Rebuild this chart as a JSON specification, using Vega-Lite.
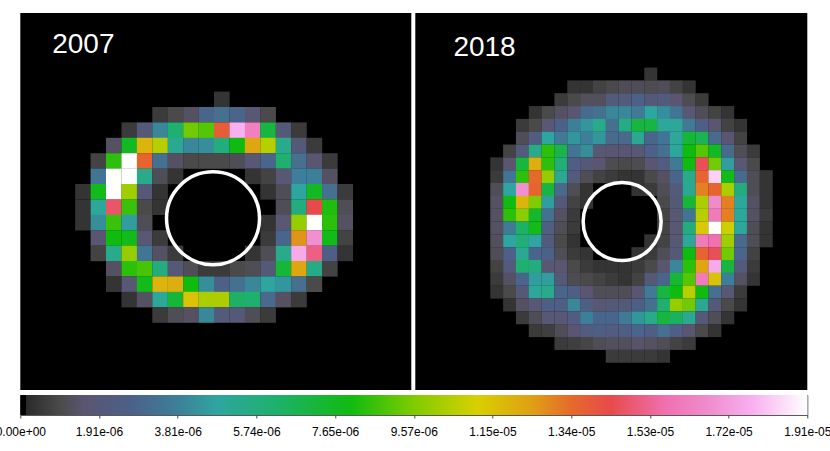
{"$schema":"https://vega.github.io/schema/vega-lite/v6.json","padding":{"left":-5.7,"top":13,"right":0,"bottom":0},"background":"white","config":{"font":"Liberation Sans","concat":{"spacing":4},"view":{"stroke":null}},
"datasets":{
"map2007":[
{"x":9,"y":0,"pct":2},
{"x":5,"y":1,"pct":3},{"x":6,"y":1,"pct":5},{"x":7,"y":1,"pct":7},{"x":8,"y":1,"pct":15},{"x":9,"y":1,"pct":17},{"x":10,"y":1,"pct":15},{"x":11,"y":1,"pct":9},{"x":12,"y":1,"pct":5},
{"x":3,"y":2,"pct":3},{"x":4,"y":2,"pct":10},{"x":5,"y":2,"pct":21},{"x":6,"y":2,"pct":32},{"x":7,"y":2,"pct":49},{"x":8,"y":2,"pct":47},{"x":9,"y":2,"pct":72},{"x":10,"y":2,"pct":93},{"x":11,"y":2,"pct":85},{"x":12,"y":2,"pct":37},{"x":13,"y":2,"pct":10},{"x":14,"y":2,"pct":3},
{"x":2,"y":3,"pct":7},{"x":3,"y":3,"pct":40},{"x":4,"y":3,"pct":62},{"x":5,"y":3,"pct":55},{"x":6,"y":3,"pct":27},{"x":7,"y":3,"pct":21},{"x":8,"y":3,"pct":22},{"x":9,"y":3,"pct":30},{"x":10,"y":3,"pct":42},{"x":11,"y":3,"pct":64},{"x":12,"y":3,"pct":55},{"x":13,"y":3,"pct":28},{"x":14,"y":3,"pct":10},{"x":15,"y":3,"pct":3},
{"x":1,"y":4,"pct":4},{"x":2,"y":4,"pct":44},{"x":3,"y":4,"pct":100},{"x":4,"y":4,"pct":71},{"x":5,"y":4,"pct":17},{"x":6,"y":4,"pct":7},{"x":7,"y":4,"pct":5},{"x":8,"y":4,"pct":5},{"x":9,"y":4,"pct":5},{"x":10,"y":4,"pct":6},{"x":11,"y":4,"pct":9},{"x":12,"y":4,"pct":15},{"x":13,"y":4,"pct":32},{"x":14,"y":4,"pct":17},{"x":15,"y":4,"pct":8},{"x":16,"y":4,"pct":3},
{"x":1,"y":5,"pct":18},{"x":2,"y":5,"pct":100},{"x":3,"y":5,"pct":100},{"x":4,"y":5,"pct":28},{"x":5,"y":5,"pct":6},{"x":6,"y":5,"pct":2},{"x":11,"y":5,"pct":2},{"x":12,"y":5,"pct":4},{"x":13,"y":5,"pct":9},{"x":14,"y":5,"pct":20},{"x":15,"y":5,"pct":20},{"x":16,"y":5,"pct":7},
{"x":0,"y":6,"pct":2},{"x":1,"y":6,"pct":41},{"x":2,"y":6,"pct":100},{"x":3,"y":6,"pct":53},{"x":4,"y":6,"pct":10},{"x":5,"y":6,"pct":2},{"x":12,"y":6,"pct":2},{"x":13,"y":6,"pct":6},{"x":14,"y":6,"pct":25},{"x":15,"y":6,"pct":40},{"x":16,"y":6,"pct":17},{"x":17,"y":6,"pct":3},
{"x":0,"y":7,"pct":2},{"x":1,"y":7,"pct":26},{"x":2,"y":7,"pct":77},{"x":3,"y":7,"pct":45},{"x":4,"y":7,"pct":5},{"x":5,"y":7,"pct":2},{"x":13,"y":7,"pct":6},{"x":14,"y":7,"pct":30},{"x":15,"y":7,"pct":75},{"x":16,"y":7,"pct":43},{"x":17,"y":7,"pct":6},
{"x":0,"y":8,"pct":2},{"x":1,"y":8,"pct":22},{"x":2,"y":8,"pct":45},{"x":3,"y":8,"pct":24},{"x":4,"y":8,"pct":6},{"x":12,"y":8,"pct":2},{"x":13,"y":8,"pct":9},{"x":14,"y":8,"pct":52},{"x":15,"y":8,"pct":100},{"x":16,"y":8,"pct":44},{"x":17,"y":8,"pct":7},
{"x":1,"y":9,"pct":8},{"x":2,"y":9,"pct":42},{"x":3,"y":9,"pct":41},{"x":4,"y":9,"pct":9},{"x":5,"y":9,"pct":3},{"x":12,"y":9,"pct":3},{"x":13,"y":9,"pct":15},{"x":14,"y":9,"pct":66},{"x":15,"y":9,"pct":88},{"x":16,"y":9,"pct":41},{"x":17,"y":9,"pct":4},
{"x":1,"y":10,"pct":4},{"x":2,"y":10,"pct":28},{"x":3,"y":10,"pct":52},{"x":4,"y":10,"pct":18},{"x":5,"y":10,"pct":7},{"x":6,"y":10,"pct":3},{"x":11,"y":10,"pct":2},{"x":12,"y":10,"pct":6},{"x":13,"y":10,"pct":28},{"x":14,"y":10,"pct":92},{"x":15,"y":10,"pct":79},{"x":16,"y":10,"pct":13},{"x":17,"y":10,"pct":2},
{"x":2,"y":11,"pct":7},{"x":3,"y":11,"pct":44},{"x":4,"y":11,"pct":46},{"x":5,"y":11,"pct":30},{"x":6,"y":11,"pct":10},{"x":7,"y":11,"pct":6},{"x":8,"y":11,"pct":3},{"x":9,"y":11,"pct":3},{"x":10,"y":11,"pct":5},{"x":11,"y":11,"pct":6},{"x":12,"y":11,"pct":10},{"x":13,"y":11,"pct":38},{"x":14,"y":11,"pct":64},{"x":15,"y":11,"pct":29},{"x":16,"y":11,"pct":4},
{"x":2,"y":12,"pct":2},{"x":3,"y":12,"pct":9},{"x":4,"y":12,"pct":41},{"x":5,"y":12,"pct":62},{"x":6,"y":12,"pct":63},{"x":7,"y":12,"pct":42},{"x":8,"y":12,"pct":22},{"x":9,"y":12,"pct":14},{"x":10,"y":12,"pct":17},{"x":11,"y":12,"pct":21},{"x":12,"y":12,"pct":25},{"x":13,"y":12,"pct":23},{"x":14,"y":12,"pct":17},{"x":15,"y":12,"pct":5},
{"x":3,"y":13,"pct":2},{"x":4,"y":13,"pct":7},{"x":5,"y":13,"pct":26},{"x":6,"y":13,"pct":38},{"x":7,"y":13,"pct":60},{"x":8,"y":13,"pct":54},{"x":9,"y":13,"pct":54},{"x":10,"y":13,"pct":33},{"x":11,"y":13,"pct":32},{"x":12,"y":13,"pct":16},{"x":13,"y":13,"pct":7},{"x":14,"y":13,"pct":3},
{"x":5,"y":14,"pct":3},{"x":6,"y":14,"pct":6},{"x":7,"y":14,"pct":7},{"x":8,"y":14,"pct":21},{"x":9,"y":14,"pct":11},{"x":10,"y":14,"pct":10},{"x":11,"y":14,"pct":6},{"x":12,"y":14,"pct":3}
],
"map2018":[
{"x":12,"y":0,"pct":2},
{"x":6,"y":1,"pct":2},{"x":7,"y":1,"pct":2},{"x":8,"y":1,"pct":4},{"x":9,"y":1,"pct":5},{"x":10,"y":1,"pct":6},{"x":11,"y":1,"pct":6},{"x":12,"y":1,"pct":5.5},{"x":13,"y":1,"pct":6},{"x":14,"y":1,"pct":4},{"x":15,"y":1,"pct":2},
{"x":5,"y":2,"pct":3},{"x":6,"y":2,"pct":5},{"x":7,"y":2,"pct":6.5},{"x":8,"y":2,"pct":6.5},{"x":9,"y":2,"pct":11},{"x":10,"y":2,"pct":11},{"x":11,"y":2,"pct":14},{"x":12,"y":2,"pct":10},{"x":13,"y":2,"pct":11},{"x":14,"y":2,"pct":8},{"x":15,"y":2,"pct":5.5},{"x":16,"y":2,"pct":3},
{"x":3,"y":3,"pct":2},{"x":4,"y":3,"pct":5},{"x":5,"y":3,"pct":7},{"x":6,"y":3,"pct":8},{"x":7,"y":3,"pct":16},{"x":8,"y":3,"pct":17},{"x":9,"y":3,"pct":21},{"x":10,"y":3,"pct":21},{"x":11,"y":3,"pct":19},{"x":12,"y":3,"pct":25},{"x":13,"y":3,"pct":22},{"x":14,"y":3,"pct":18},{"x":15,"y":3,"pct":9},{"x":16,"y":3,"pct":6},{"x":17,"y":3,"pct":4},{"x":18,"y":3,"pct":2},
{"x":2,"y":4,"pct":3},{"x":3,"y":4,"pct":5},{"x":4,"y":4,"pct":9},{"x":5,"y":4,"pct":14},{"x":6,"y":4,"pct":20},{"x":7,"y":4,"pct":23},{"x":8,"y":4,"pct":28},{"x":9,"y":4,"pct":17},{"x":10,"y":4,"pct":29},{"x":11,"y":4,"pct":37},{"x":12,"y":4,"pct":37},{"x":13,"y":4,"pct":26},{"x":14,"y":4,"pct":26},{"x":15,"y":4,"pct":19},{"x":16,"y":4,"pct":13},{"x":17,"y":4,"pct":8},{"x":18,"y":4,"pct":4},{"x":19,"y":4,"pct":2},
{"x":2,"y":5,"pct":6},{"x":3,"y":5,"pct":12},{"x":4,"y":5,"pct":25},{"x":5,"y":5,"pct":19},{"x":6,"y":5,"pct":23},{"x":7,"y":5,"pct":20},{"x":8,"y":5,"pct":23},{"x":9,"y":5,"pct":16},{"x":10,"y":5,"pct":16},{"x":11,"y":5,"pct":27},{"x":12,"y":5,"pct":15},{"x":13,"y":5,"pct":18},{"x":14,"y":5,"pct":26},{"x":15,"y":5,"pct":38},{"x":16,"y":5,"pct":35},{"x":17,"y":5,"pct":16},{"x":18,"y":5,"pct":8},{"x":19,"y":5,"pct":4},
{"x":1,"y":6,"pct":4},{"x":2,"y":6,"pct":11},{"x":3,"y":6,"pct":28},{"x":4,"y":6,"pct":44},{"x":5,"y":6,"pct":36},{"x":6,"y":6,"pct":18},{"x":7,"y":6,"pct":22},{"x":8,"y":6,"pct":9},{"x":9,"y":6,"pct":8.5},{"x":10,"y":6,"pct":8.5},{"x":11,"y":6,"pct":9},{"x":12,"y":6,"pct":14},{"x":13,"y":6,"pct":17},{"x":14,"y":6,"pct":26},{"x":15,"y":6,"pct":42},{"x":16,"y":6,"pct":47},{"x":17,"y":6,"pct":40},{"x":18,"y":6,"pct":16},{"x":19,"y":6,"pct":6},{"x":20,"y":6,"pct":3},
{"x":0,"y":7,"pct":2},{"x":1,"y":7,"pct":8},{"x":2,"y":7,"pct":37},{"x":3,"y":7,"pct":63},{"x":4,"y":7,"pct":44},{"x":5,"y":7,"pct":31},{"x":6,"y":7,"pct":13},{"x":7,"y":7,"pct":10},{"x":8,"y":7,"pct":8},{"x":9,"y":7,"pct":5.5},{"x":10,"y":7,"pct":5},{"x":11,"y":7,"pct":5.5},{"x":12,"y":7,"pct":8},{"x":13,"y":7,"pct":12},{"x":14,"y":7,"pct":19},{"x":15,"y":7,"pct":42},{"x":16,"y":7,"pct":76},{"x":17,"y":7,"pct":49},{"x":18,"y":7,"pct":24},{"x":19,"y":7,"pct":9},{"x":20,"y":7,"pct":5},
{"x":0,"y":8,"pct":3},{"x":1,"y":8,"pct":18},{"x":2,"y":8,"pct":44},{"x":3,"y":8,"pct":70},{"x":4,"y":8,"pct":52},{"x":5,"y":8,"pct":27},{"x":6,"y":8,"pct":11},{"x":7,"y":8,"pct":6},{"x":8,"y":8,"pct":4},{"x":9,"y":8,"pct":3},{"x":10,"y":8,"pct":2},{"x":11,"y":8,"pct":2},{"x":12,"y":8,"pct":5},{"x":13,"y":8,"pct":7},{"x":14,"y":8,"pct":15},{"x":15,"y":8,"pct":28},{"x":16,"y":8,"pct":71},{"x":17,"y":8,"pct":96},{"x":18,"y":8,"pct":41},{"x":19,"y":8,"pct":16},{"x":20,"y":8,"pct":6},{"x":21,"y":8,"pct":2},
{"x":0,"y":9,"pct":6},{"x":1,"y":9,"pct":25},{"x":2,"y":9,"pct":88},{"x":3,"y":9,"pct":71},{"x":4,"y":9,"pct":37},{"x":5,"y":9,"pct":16},{"x":6,"y":9,"pct":6},{"x":7,"y":9,"pct":2},{"x":11,"y":9,"pct":2},{"x":12,"y":9,"pct":3},{"x":13,"y":9,"pct":6},{"x":14,"y":9,"pct":11},{"x":15,"y":9,"pct":27},{"x":16,"y":9,"pct":68},{"x":17,"y":9,"pct":71},{"x":18,"y":9,"pct":54},{"x":19,"y":9,"pct":30},{"x":20,"y":9,"pct":6},{"x":21,"y":9,"pct":2},
{"x":0,"y":10,"pct":7},{"x":1,"y":10,"pct":42},{"x":2,"y":10,"pct":62},{"x":3,"y":10,"pct":50},{"x":4,"y":10,"pct":24},{"x":5,"y":10,"pct":10},{"x":6,"y":10,"pct":4},{"x":7,"y":10,"pct":2},{"x":13,"y":10,"pct":5},{"x":14,"y":10,"pct":10},{"x":15,"y":10,"pct":38},{"x":16,"y":10,"pct":54},{"x":17,"y":10,"pct":87},{"x":18,"y":10,"pct":68},{"x":19,"y":10,"pct":26},{"x":20,"y":10,"pct":7},{"x":21,"y":10,"pct":2},
{"x":0,"y":11,"pct":7},{"x":1,"y":11,"pct":44},{"x":2,"y":11,"pct":51},{"x":3,"y":11,"pct":39},{"x":4,"y":11,"pct":17},{"x":5,"y":11,"pct":7},{"x":6,"y":11,"pct":3},{"x":13,"y":11,"pct":4},{"x":14,"y":11,"pct":9},{"x":15,"y":11,"pct":18},{"x":16,"y":11,"pct":55},{"x":17,"y":11,"pct":84},{"x":18,"y":11,"pct":68},{"x":19,"y":11,"pct":26},{"x":20,"y":11,"pct":7},{"x":21,"y":11,"pct":3},
{"x":0,"y":12,"pct":7},{"x":1,"y":12,"pct":19},{"x":2,"y":12,"pct":33},{"x":3,"y":12,"pct":41},{"x":4,"y":12,"pct":13},{"x":5,"y":12,"pct":6},{"x":6,"y":12,"pct":3},{"x":13,"y":12,"pct":4},{"x":14,"y":12,"pct":9},{"x":15,"y":12,"pct":30},{"x":16,"y":12,"pct":59},{"x":17,"y":12,"pct":100},{"x":18,"y":12,"pct":57},{"x":19,"y":12,"pct":26},{"x":20,"y":12,"pct":6},{"x":21,"y":12,"pct":2},
{"x":0,"y":13,"pct":6.5},{"x":1,"y":13,"pct":25},{"x":2,"y":13,"pct":31},{"x":3,"y":13,"pct":25},{"x":4,"y":13,"pct":11},{"x":5,"y":13,"pct":5},{"x":6,"y":13,"pct":2},{"x":12,"y":13,"pct":2},{"x":13,"y":13,"pct":4},{"x":14,"y":13,"pct":9},{"x":15,"y":13,"pct":26},{"x":16,"y":13,"pct":84},{"x":17,"y":13,"pct":82},{"x":18,"y":13,"pct":53},{"x":19,"y":13,"pct":16},{"x":20,"y":13,"pct":6},{"x":21,"y":13,"pct":2},
{"x":0,"y":14,"pct":6},{"x":1,"y":14,"pct":14},{"x":2,"y":14,"pct":27},{"x":3,"y":14,"pct":15},{"x":4,"y":14,"pct":14},{"x":5,"y":14,"pct":6},{"x":6,"y":14,"pct":3},{"x":7,"y":14,"pct":2},{"x":11,"y":14,"pct":2},{"x":12,"y":14,"pct":3},{"x":13,"y":14,"pct":6},{"x":14,"y":14,"pct":10},{"x":15,"y":14,"pct":42},{"x":16,"y":14,"pct":71},{"x":17,"y":14,"pct":76},{"x":18,"y":14,"pct":49},{"x":19,"y":14,"pct":15},{"x":20,"y":14,"pct":4},
{"x":0,"y":15,"pct":4},{"x":1,"y":15,"pct":11},{"x":2,"y":15,"pct":32},{"x":3,"y":15,"pct":30},{"x":4,"y":15,"pct":9},{"x":5,"y":15,"pct":8},{"x":6,"y":15,"pct":5},{"x":7,"y":15,"pct":3},{"x":8,"y":15,"pct":2},{"x":9,"y":15,"pct":2},{"x":10,"y":15,"pct":2},{"x":11,"y":15,"pct":3},{"x":12,"y":15,"pct":5},{"x":13,"y":15,"pct":8},{"x":14,"y":15,"pct":21},{"x":15,"y":15,"pct":44},{"x":16,"y":15,"pct":64},{"x":17,"y":15,"pct":92},{"x":18,"y":15,"pct":37},{"x":19,"y":15,"pct":11},{"x":20,"y":15,"pct":3},
{"x":0,"y":16,"pct":3},{"x":1,"y":16,"pct":7},{"x":2,"y":16,"pct":15},{"x":3,"y":16,"pct":24},{"x":4,"y":16,"pct":24},{"x":5,"y":16,"pct":10},{"x":6,"y":16,"pct":5.5},{"x":7,"y":16,"pct":5},{"x":8,"y":16,"pct":4},{"x":9,"y":16,"pct":3},{"x":10,"y":16,"pct":2},{"x":11,"y":16,"pct":4},{"x":12,"y":16,"pct":10},{"x":13,"y":16,"pct":15},{"x":14,"y":16,"pct":38},{"x":15,"y":16,"pct":47},{"x":16,"y":16,"pct":84},{"x":17,"y":16,"pct":60},{"x":18,"y":16,"pct":20},{"x":19,"y":16,"pct":7},{"x":20,"y":16,"pct":2},
{"x":0,"y":17,"pct":2},{"x":1,"y":17,"pct":5},{"x":2,"y":17,"pct":10},{"x":3,"y":17,"pct":26},{"x":4,"y":17,"pct":28},{"x":5,"y":17,"pct":15},{"x":6,"y":17,"pct":13},{"x":7,"y":17,"pct":8},{"x":8,"y":17,"pct":6},{"x":9,"y":17,"pct":6},{"x":10,"y":17,"pct":6},{"x":11,"y":17,"pct":8},{"x":12,"y":17,"pct":19},{"x":13,"y":17,"pct":37},{"x":14,"y":17,"pct":42},{"x":15,"y":17,"pct":55},{"x":16,"y":17,"pct":42},{"x":17,"y":17,"pct":17},{"x":18,"y":17,"pct":9},{"x":19,"y":17,"pct":3},
{"x":1,"y":18,"pct":2},{"x":2,"y":18,"pct":7},{"x":3,"y":18,"pct":9},{"x":4,"y":18,"pct":13},{"x":5,"y":18,"pct":13},{"x":6,"y":18,"pct":21},{"x":7,"y":18,"pct":13},{"x":8,"y":18,"pct":9},{"x":9,"y":18,"pct":10},{"x":10,"y":18,"pct":10},{"x":11,"y":18,"pct":13},{"x":12,"y":18,"pct":17},{"x":13,"y":18,"pct":32},{"x":14,"y":18,"pct":52},{"x":15,"y":18,"pct":49},{"x":16,"y":18,"pct":27},{"x":17,"y":18,"pct":10},{"x":18,"y":18,"pct":5},{"x":19,"y":18,"pct":2},
{"x":2,"y":19,"pct":3},{"x":3,"y":19,"pct":6},{"x":4,"y":19,"pct":9},{"x":5,"y":19,"pct":9},{"x":6,"y":19,"pct":12},{"x":7,"y":19,"pct":20},{"x":8,"y":19,"pct":15},{"x":9,"y":19,"pct":15},{"x":10,"y":19,"pct":19},{"x":11,"y":19,"pct":23},{"x":12,"y":19,"pct":28},{"x":13,"y":19,"pct":37},{"x":14,"y":19,"pct":34},{"x":15,"y":19,"pct":27},{"x":16,"y":19,"pct":10},{"x":17,"y":19,"pct":6},{"x":18,"y":19,"pct":2},
{"x":3,"y":20,"pct":3},{"x":4,"y":20,"pct":3.5},{"x":5,"y":20,"pct":6},{"x":6,"y":20,"pct":8},{"x":7,"y":20,"pct":12},{"x":8,"y":20,"pct":13},{"x":9,"y":20,"pct":12},{"x":10,"y":20,"pct":13},{"x":11,"y":20,"pct":15},{"x":12,"y":20,"pct":13},{"x":13,"y":20,"pct":17},{"x":14,"y":20,"pct":13},{"x":15,"y":20,"pct":8},{"x":16,"y":20,"pct":5},{"x":17,"y":20,"pct":2},
{"x":5,"y":21,"pct":3},{"x":6,"y":21,"pct":3.5},{"x":7,"y":21,"pct":4.5},{"x":8,"y":21,"pct":6},{"x":9,"y":21,"pct":6.5},{"x":10,"y":21,"pct":6.5},{"x":11,"y":21,"pct":7.5},{"x":12,"y":21,"pct":7},{"x":13,"y":21,"pct":6},{"x":14,"y":21,"pct":4},{"x":15,"y":21,"pct":3},
{"x":9,"y":22,"pct":3},{"x":10,"y":22,"pct":3},{"x":11,"y":22,"pct":3},{"x":12,"y":22,"pct":3},{"x":13,"y":22,"pct":2}
]
},
"vconcat":[
{"hconcat":[
{"width":391,"height":377,"view":{"fill":"#000000","stroke":null},
"encoding":{"x":{"field":"x","type":"quantitative","axis":null,"scale":{"domain":[-4.06,21.28],"nice":false,"zero":false}},"y":{"field":"y","type":"quantitative","axis":null,"scale":{"domain":[18.87,-5.61],"nice":false,"zero":false}}},
"layer":[
{"data":{"name":"map2007"},"mark":{"type":"rect","width":15.6,"height":15.6},"encoding":{"color":{"field":"pct","type":"quantitative","legend":null,"scale":{"interpolate":"rgb","domain":[0,0.7,5,8,14,20,25,32,42,50,58,65,70,75,82,88,93,100],"range":["#000000","#2a2a2a","#4a4a4a","#5a5570","#4c6088","#3d7f98","#2ea5a0","#1fb070","#10bb10","#7fcc00","#d8d000","#dfa015","#e56a2a","#e84a4a","#f070b0","#f090d0","#f8b0f0","#ffffff"]}}}},
{"data":{"values":[{"x":8.43,"y":7.72}]},"mark":{"type":"point","shape":"circle","filled":false,"size":8650,"strokeWidth":3.5,"color":"white","opacity":1}},
{"data":{"values":[{"x":-1.99,"y":-3.53,"label":"2007"}]},"mark":{"type":"text","align":"left","baseline":"middle","fontSize":28,"color":"white"},"encoding":{"text":{"field":"label"}}}
]},
{"width":392,"height":377,"view":{"fill":"#000000","stroke":null},
"encoding":{"x":{"field":"x","type":"quantitative","axis":null,"scale":{"domain":[-6.35,24.2],"nice":false,"zero":false}},"y":{"field":"y","type":"quantitative","axis":null,"scale":{"domain":[24.63,-4.76],"nice":false,"zero":false}}},
"layer":[
{"data":{"name":"map2018"},"mark":{"type":"rect","width":13,"height":13},"encoding":{"color":{"field":"pct","type":"quantitative","legend":null,"scale":{"interpolate":"rgb","domain":[0,0.7,5,8,14,20,25,32,42,50,58,65,70,75,82,88,93,100],"range":["#000000","#2a2a2a","#4a4a4a","#5a5570","#4c6088","#3d7f98","#2ea5a0","#1fb070","#10bb10","#7fcc00","#d8d000","#dfa015","#e56a2a","#e84a4a","#f070b0","#f090d0","#f8b0f0","#ffffff"]}}}},
{"data":{"values":[{"x":9.77,"y":11.5}]},"mark":{"type":"point","shape":"circle","filled":false,"size":6084,"strokeWidth":3.5,"color":"white","opacity":1}},
{"data":{"values":[{"x":-3.38,"y":-2.03,"label":"2018"}]},"mark":{"type":"text","align":"left","baseline":"middle","fontSize":28,"color":"white"},"encoding":{"text":{"field":"label"}}}
]}
],"spacing":4},
{"width":787,"height":20,"view":{"stroke":"#555555","strokeWidth":1},
"data":{"values":[{"start":0,"end":100}]},
"mark":{"type":"rect","color":{"gradient":"linear","x1":0,"x2":1,"y1":0,"y2":0,"stops":[{"offset":0,"color":"#000000"},{"offset":0.007,"color":"#000000"},{"offset":0.0075,"color":"#2a2a2a"},{"offset":0.05,"color":"#4a4a4a"},{"offset":0.08,"color":"#5a5570"},{"offset":0.14,"color":"#4c6088"},{"offset":0.2,"color":"#3d7f98"},{"offset":0.25,"color":"#2ea5a0"},{"offset":0.32,"color":"#1fb070"},{"offset":0.42,"color":"#10bb10"},{"offset":0.5,"color":"#7fcc00"},{"offset":0.58,"color":"#d8d000"},{"offset":0.65,"color":"#dfa015"},{"offset":0.7,"color":"#e56a2a"},{"offset":0.75,"color":"#e84a4a"},{"offset":0.82,"color":"#f070b0"},{"offset":0.88,"color":"#f090d0"},{"offset":0.93,"color":"#f8b0f0"},{"offset":1,"color":"#ffffff"}]}},
"encoding":{"x":{"field":"start","type":"quantitative","scale":{"domain":[0,100],"nice":false,"zero":false},"axis":{"values":[0,10,20,30,40,50,60,70,80,90,100],"title":null,"grid":false,"domain":false,"tickSize":3,"tickColor":"#444444","tickWidth":1,"labelFontSize":12,"labelColor":"#000000","labelPadding":9,"labelFlush":false,"labelOverlap":false,"labelExpr":"['0.00e+00','1.91e-06','3.81e-06','5.74e-06','7.65e-06','9.57e-06','1.15e-05','1.34e-05','1.53e-05','1.72e-05','1.91e-05'][round(datum.value/10)]"}},"x2":{"field":"end"}}}
],"spacing":4}
